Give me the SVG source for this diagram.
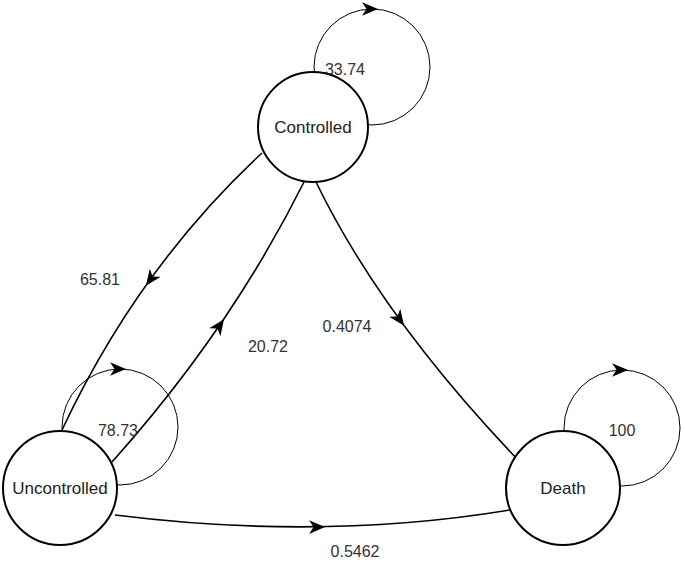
<svg xmlns="http://www.w3.org/2000/svg" width="685" height="564" viewBox="0 0 685 564">
<style>
.e{fill:none;stroke:#000;stroke-width:1.6}
.l{fill:none;stroke:#000;stroke-width:1}
.a{fill:none;stroke:none;marker-end:url(#arr)}
.n{fill:#fff;stroke:#000;stroke-width:2}
text{font-family:"Liberation Sans",Arial,sans-serif;font-size:16px;fill:#333;text-anchor:middle;dominant-baseline:central}
.t{font-size:17px;fill:#222}
</style>
<defs>
<marker id="arr" viewBox="0 0 14 12" refX="14" refY="6" markerWidth="16" markerHeight="14" markerUnits="userSpaceOnUse" orient="auto">
<path d="M0,0 L14,6 L0,12 L4,6 Z" fill="#000"/>
</marker>
</defs>
<g id="connectors">
<circle class="l" cx="372" cy="67" r="58"/>
<circle class="l" cx="120" cy="427" r="58"/>
<circle class="l" cx="622" cy="428" r="58"/>
<path class="a" d="M366,9 L378,9"/>
<path class="a" d="M114,369 L126,369"/>
<path class="a" d="M616,370 L628,370"/>
<path class="e" d="M262,153 Q138,268 62,430"/>
<path class="e" d="M112,462 Q231,329 305,180"/>
<path class="e" d="M316,182 Q382,318 520,462"/>
<path class="e" d="M115,515 Q323,541 510,510"/>
<path class="a" d="M151.2,278.4 L145.9,285.7"/>
<path class="a" d="M218.8,326.6 L224,319.2"/>
<path class="a" d="M398.8,318.4 L404.1,325.7"/>
<path class="a" d="M316,527 L325,526.9"/>
<text x="345" y="69">33.74</text>
<text x="118" y="430">78.73</text>
<text x="622" y="430">100</text>
<text x="100" y="279">65.81</text>
<text x="268" y="346">20.72</text>
<text x="347" y="326">0.4074</text>
<text x="355" y="551">0.5462</text>
</g>
<g id="Controlled"><circle class="n" cx="313" cy="127" r="55"/><text class="t" x="313" y="127">Controlled</text></g>
<g id="Uncontrolled"><circle class="n" cx="60" cy="488" r="57"/><text class="t" x="60" y="488">Uncontrolled</text></g>
<g id="Death"><circle class="n" cx="563" cy="488" r="57"/><text class="t" x="563" y="488">Death</text></g>
</svg>
